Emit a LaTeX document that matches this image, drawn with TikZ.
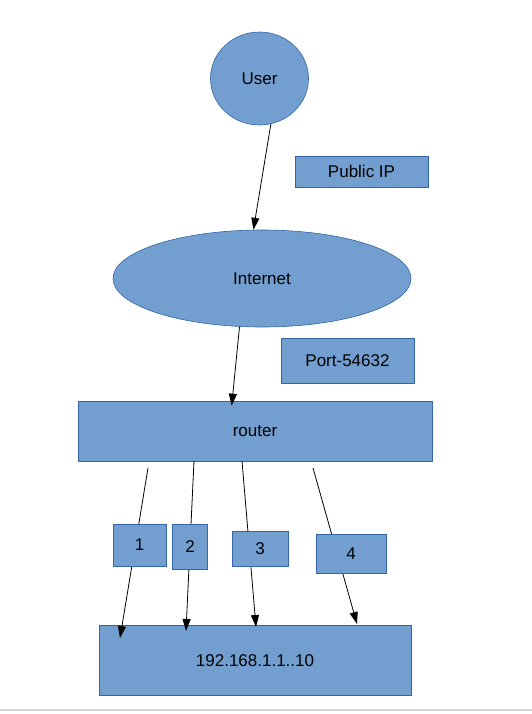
\documentclass[tikz,border=0pt]{standalone}
\usepackage{fontspec}
\setmainfont{Liberation Sans}
\usetikzlibrary{arrows.meta,shapes.geometric}
\definecolor{boxfill}{HTML}{729FCF}
\definecolor{boxline}{HTML}{3465A4}
\begin{document}
\begin{tikzpicture}[x=1pt,y=-1pt,
  box/.style={draw=boxline,fill=boxfill,line width=0.6pt,inner sep=0pt,font=\fontsize{17}{20}\selectfont},
  link/.style={line width=0.8pt,-{Triangle[length=12pt,width=8pt]}}]
\useasboundingbox (0,0) rectangle (532,714);
\node[box,ellipse,minimum width=98pt,minimum height=93pt] (NUser) at (259.5,78.5) {User};
\node[box,minimum width=133pt,minimum height=31pt] (NPublic) at (361.5,171.5) {Public IP};
\node[box,ellipse,minimum width=298pt,minimum height=97pt] (NInternet) at (262,278.5) {Internet};
\node[box,minimum width=133pt,minimum height=45pt] (NPort) at (347.5,360.5) {Port-54632};
\node[box,minimum width=354pt,minimum height=60pt] (NRouter) at (255,431) {router};
\node[box,minimum width=312pt,minimum height=70pt] (NLan) at (255,660.5) {192.168.1.1..10};
\draw[link] (NUser.-76) -- (NInternet.100);
\draw[link,shorten >=-5pt] (NInternet.-115) -- (NRouter.127.5);
% port lines
\coordinate (S1) at (148,468);
\coordinate (S2) at (194,461);
\coordinate (S3) at (242,461);
\coordinate (S4) at (313,468);
\coordinate (E1) at (120,638);
\coordinate (E2) at (186,631);
\coordinate (E3) at (256,627);
\coordinate (E4) at (357,624);
\draw[link] (S1) -- (E1);
\draw[link] (S2) -- (E2);
\draw[link] (S3) -- (E3);
\draw[link] (S4) -- (E4);
\node[box,minimum width=53pt,minimum height=42pt] (N1) at (139.5,545) {1};
\node[box,minimum width=35.5pt,minimum height=45pt] (N2) at (190,546.5) {2};
\node[box,minimum width=56pt,minimum height=35pt] (N3) at (260,548.5) {3};
\node[box,minimum width=70pt,minimum height=39pt] (N4) at (351,553.5) {4};
\draw[line width=1.5pt,gray!35] (0,710) -- (532,710);
\end{tikzpicture}
\end{document}
